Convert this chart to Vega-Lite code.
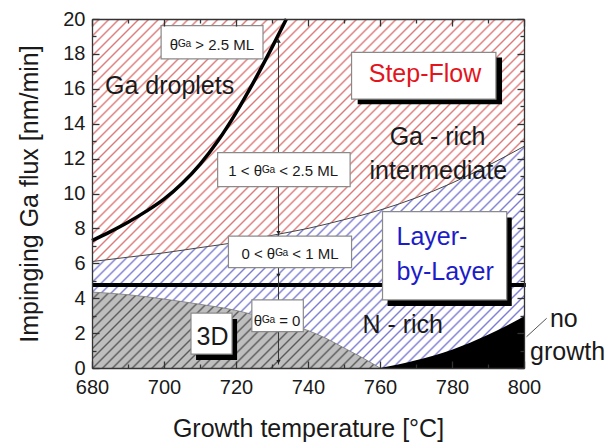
{
"$schema":"https://vega.github.io/schema/vega-lite/v6.json",
"width":432,"height":349,
"autosize":{"type":"none"},
"padding":{"left":92,"top":19,"right":86,"bottom":79},
"background":"white",
"config":{"view":{"stroke":null},"font":"Liberation Sans",
 "axis":{"grid":false,"domainColor":"#333","domainWidth":1.3,"tickColor":"#333","tickWidth":1.3,"labelFont":"Liberation Sans","labelFontSize":20,"labelColor":"#1a1a1a","titleFont":"Liberation Sans","titleFontSize":25,"titleFontWeight":"normal","titleColor":"#1a1a1a","labelFlush":false,"labelOverlap":false}},
"datasets":{
 "bound":[{"T":680,"v":6.1},{"T":690,"v":6.35},{"T":700,"v":6.6},{"T":710,"v":6.9},{"T":720,"v":7.2},{"T":730,"v":7.6},{"T":740,"v":8.0},{"T":750,"v":8.5},{"T":760,"v":9.05},{"T":770,"v":9.75},{"T":780,"v":10.6},{"T":790,"v":11.6},{"T":800,"v":12.7}],
 "threeD":[{"T":680,"v":4.35},{"T":690,"v":4.2},{"T":700,"v":3.95},{"T":710,"v":3.65},{"T":720,"v":3.3},{"T":730,"v":2.75},{"T":740,"v":2.15},{"T":745,"v":1.7},{"T":750,"v":1.15},{"T":755,"v":0.6},{"T":760,"v":0}],
 "nogrowth":[{"T":760,"v":0},{"T":765,"v":0.2},{"T":770,"v":0.45},{"T":775,"v":0.72},{"T":780,"v":1.05},{"T":785,"v":1.45},{"T":790,"v":1.9},{"T":795,"v":2.4},{"T":800,"v":2.95}],
 "drop":[{"T":680,"v":7.3},{"T":685,"v":7.8},{"T":690,"v":8.35},{"T":695,"v":8.975},{"T":700,"v":9.675},{"T":705,"v":10.575},{"T":710,"v":11.675},{"T":715,"v":13.025},{"T":720,"v":14.625},{"T":725,"v":16.425},{"T":730,"v":18.375},{"T":734,"v":20}],
 "hline":[{"T1":680,"T2":800.5,"v":4.75}],
 "vline":[{"T":731.8,"v1":0.2,"v2":18.8}],
 "leader":[{"T1":800.7,"T2":806.3,"v1":1.79,"v2":2.85}],
 "boxes":[{"x1":699.2,"x2":727.5,"y1":17.71,"y2":19.62},{"x1":714.9,"x2":751.7,"y1":10.39,"y2":12.34},{"x1":717.9,"x2":752.1,"y1":5.75,"y2":7.56},{"x1":724.4,"x2":738.7,"y1":2.08,"y2":3.9}],
 "sboxes":[{"x1":707.5,"x2":718.9,"y1":0.8,"y2":3.15},{"x1":752.1,"x2":792.2,"y1":15.41,"y2":18.09},{"x1":760.7,"x2":795.2,"y1":3.9,"y2":8.96}],
 "shadows":[{"x1":708.9,"x2":720.3,"y1":0.46,"y2":2.81},{"x1":753.8,"x2":793.9,"y1":15.12,"y2":17.8},{"x1":762.1,"x2":796.6,"y1":3.56,"y2":8.62}],
 "arrows_up":[{"T":731.8,"v":18.75}],
 "arrows_down":[{"T":731.8,"v":7.75},{"T":731.8,"v":5.3},{"T":731.8,"v":0.35}],
 "boxtext":[{"t":"θᴳᵃ > 2.5 ML","T":713.3,"v":18.53},{"t":"1 < θᴳᵃ < 2.5 ML","T":733.1,"v":11.27},{"t":"0 < θᴳᵃ < 1 ML","T":735,"v":6.55},{"t":"θᴳᵃ = 0","T":731.4,"v":2.71}],
 "labels":[{"t":"Ga - rich","T":776,"v":13.21},{"t":"intermediate","T":776.2,"v":11.3},{"t":"N - rich","T":766.3,"v":2.45},{"t":"3D","T":713.5,"v":1.8}],
 "leftlabels":[{"t":"Ga droplets","T":683.6,"v":16.18}],
 "outlabels":[{"t":"no","T":807.2,"v":2.37},{"t":"growth","T":801.7,"v":0.46}],
 "redlabel":[{"t":"Step-Flow","T":772.5,"v":16.84}],
 "bluelabel":[{"t":"Layer-","T":764.6,"v":7.52},{"t":"by-Layer","T":764.6,"v":5.52}]
},
"layer":[
 {"data":{"name":"bound"},
  "mark":{"type":"area","fill":{"gradient":"linear","x1":0,"y1":0,"x2":1.7421,"y2":0.9783,"stops":[
{"offset":0.0055,"color":"#fff"},{"offset":0.0075,"color":"#dc7878"},{"offset":0.0095,"color":"#fff"},
{"offset":0.0155,"color":"#fff"},{"offset":0.0175,"color":"#dc7878"},{"offset":0.0195,"color":"#fff"},
{"offset":0.0255,"color":"#fff"},{"offset":0.0275,"color":"#dc7878"},{"offset":0.0295,"color":"#fff"},
{"offset":0.0355,"color":"#fff"},{"offset":0.0375,"color":"#dc7878"},{"offset":0.0395,"color":"#fff"},
{"offset":0.0455,"color":"#fff"},{"offset":0.0475,"color":"#dc7878"},{"offset":0.0495,"color":"#fff"},
{"offset":0.0555,"color":"#fff"},{"offset":0.0575,"color":"#dc7878"},{"offset":0.0595,"color":"#fff"},
{"offset":0.0655,"color":"#fff"},{"offset":0.0675,"color":"#dc7878"},{"offset":0.0695,"color":"#fff"},
{"offset":0.0755,"color":"#fff"},{"offset":0.0775,"color":"#dc7878"},{"offset":0.0795,"color":"#fff"},
{"offset":0.0855,"color":"#fff"},{"offset":0.0875,"color":"#dc7878"},{"offset":0.0895,"color":"#fff"},
{"offset":0.0955,"color":"#fff"},{"offset":0.0975,"color":"#dc7878"},{"offset":0.0995,"color":"#fff"},
{"offset":0.1055,"color":"#fff"},{"offset":0.1075,"color":"#dc7878"},{"offset":0.1095,"color":"#fff"},
{"offset":0.1155,"color":"#fff"},{"offset":0.1175,"color":"#dc7878"},{"offset":0.1195,"color":"#fff"},
{"offset":0.1255,"color":"#fff"},{"offset":0.1275,"color":"#dc7878"},{"offset":0.1295,"color":"#fff"},
{"offset":0.1355,"color":"#fff"},{"offset":0.1375,"color":"#dc7878"},{"offset":0.1395,"color":"#fff"},
{"offset":0.1455,"color":"#fff"},{"offset":0.1475,"color":"#dc7878"},{"offset":0.1495,"color":"#fff"},
{"offset":0.1555,"color":"#fff"},{"offset":0.1575,"color":"#dc7878"},{"offset":0.1595,"color":"#fff"},
{"offset":0.1655,"color":"#fff"},{"offset":0.1675,"color":"#dc7878"},{"offset":0.1695,"color":"#fff"},
{"offset":0.1755,"color":"#fff"},{"offset":0.1775,"color":"#dc7878"},{"offset":0.1795,"color":"#fff"},
{"offset":0.1855,"color":"#fff"},{"offset":0.1875,"color":"#dc7878"},{"offset":0.1895,"color":"#fff"},
{"offset":0.1955,"color":"#fff"},{"offset":0.1975,"color":"#dc7878"},{"offset":0.1995,"color":"#fff"},
{"offset":0.2055,"color":"#fff"},{"offset":0.2075,"color":"#dc7878"},{"offset":0.2095,"color":"#fff"},
{"offset":0.2155,"color":"#fff"},{"offset":0.2175,"color":"#dc7878"},{"offset":0.2195,"color":"#fff"},
{"offset":0.2255,"color":"#fff"},{"offset":0.2275,"color":"#dc7878"},{"offset":0.2295,"color":"#fff"},
{"offset":0.2355,"color":"#fff"},{"offset":0.2375,"color":"#dc7878"},{"offset":0.2395,"color":"#fff"},
{"offset":0.2455,"color":"#fff"},{"offset":0.2475,"color":"#dc7878"},{"offset":0.2495,"color":"#fff"},
{"offset":0.2555,"color":"#fff"},{"offset":0.2575,"color":"#dc7878"},{"offset":0.2595,"color":"#fff"},
{"offset":0.2655,"color":"#fff"},{"offset":0.2675,"color":"#dc7878"},{"offset":0.2695,"color":"#fff"},
{"offset":0.2755,"color":"#fff"},{"offset":0.2775,"color":"#dc7878"},{"offset":0.2795,"color":"#fff"},
{"offset":0.2855,"color":"#fff"},{"offset":0.2875,"color":"#dc7878"},{"offset":0.2895,"color":"#fff"},
{"offset":0.2955,"color":"#fff"},{"offset":0.2975,"color":"#dc7878"},{"offset":0.2995,"color":"#fff"},
{"offset":0.3055,"color":"#fff"},{"offset":0.3075,"color":"#dc7878"},{"offset":0.3095,"color":"#fff"},
{"offset":0.3155,"color":"#fff"},{"offset":0.3175,"color":"#dc7878"},{"offset":0.3195,"color":"#fff"},
{"offset":0.3255,"color":"#fff"},{"offset":0.3275,"color":"#dc7878"},{"offset":0.3295,"color":"#fff"},
{"offset":0.3355,"color":"#fff"},{"offset":0.3375,"color":"#dc7878"},{"offset":0.3395,"color":"#fff"},
{"offset":0.3455,"color":"#fff"},{"offset":0.3475,"color":"#dc7878"},{"offset":0.3495,"color":"#fff"},
{"offset":0.3555,"color":"#fff"},{"offset":0.3575,"color":"#dc7878"},{"offset":0.3595,"color":"#fff"},
{"offset":0.3655,"color":"#fff"},{"offset":0.3675,"color":"#dc7878"},{"offset":0.3695,"color":"#fff"},
{"offset":0.3755,"color":"#fff"},{"offset":0.3775,"color":"#dc7878"},{"offset":0.3795,"color":"#fff"},
{"offset":0.3855,"color":"#fff"},{"offset":0.3875,"color":"#dc7878"},{"offset":0.3895,"color":"#fff"},
{"offset":0.3955,"color":"#fff"},{"offset":0.3975,"color":"#dc7878"},{"offset":0.3995,"color":"#fff"},
{"offset":0.4055,"color":"#fff"},{"offset":0.4075,"color":"#dc7878"},{"offset":0.4095,"color":"#fff"},
{"offset":0.4155,"color":"#fff"},{"offset":0.4175,"color":"#dc7878"},{"offset":0.4195,"color":"#fff"},
{"offset":0.4255,"color":"#fff"},{"offset":0.4275,"color":"#dc7878"},{"offset":0.4295,"color":"#fff"},
{"offset":0.4355,"color":"#fff"},{"offset":0.4375,"color":"#dc7878"},{"offset":0.4395,"color":"#fff"},
{"offset":0.4455,"color":"#fff"},{"offset":0.4475,"color":"#dc7878"},{"offset":0.4495,"color":"#fff"},
{"offset":0.4555,"color":"#fff"},{"offset":0.4575,"color":"#dc7878"},{"offset":0.4595,"color":"#fff"},
{"offset":0.4655,"color":"#fff"},{"offset":0.4675,"color":"#dc7878"},{"offset":0.4695,"color":"#fff"},
{"offset":0.4755,"color":"#fff"},{"offset":0.4775,"color":"#dc7878"},{"offset":0.4795,"color":"#fff"},
{"offset":0.4855,"color":"#fff"},{"offset":0.4875,"color":"#dc7878"},{"offset":0.4895,"color":"#fff"},
{"offset":0.4955,"color":"#fff"},{"offset":0.4975,"color":"#dc7878"},{"offset":0.4995,"color":"#fff"},
{"offset":0.5055,"color":"#fff"},{"offset":0.5075,"color":"#dc7878"},{"offset":0.5095,"color":"#fff"},
{"offset":0.5155,"color":"#fff"},{"offset":0.5175,"color":"#dc7878"},{"offset":0.5195,"color":"#fff"},
{"offset":0.5255,"color":"#fff"},{"offset":0.5275,"color":"#dc7878"},{"offset":0.5295,"color":"#fff"},
{"offset":0.5355,"color":"#fff"},{"offset":0.5375,"color":"#dc7878"},{"offset":0.5395,"color":"#fff"},
{"offset":0.5455,"color":"#fff"},{"offset":0.5475,"color":"#dc7878"},{"offset":0.5495,"color":"#fff"},
{"offset":0.5555,"color":"#fff"},{"offset":0.5575,"color":"#dc7878"},{"offset":0.5595,"color":"#fff"},
{"offset":0.5655,"color":"#fff"},{"offset":0.5675,"color":"#dc7878"},{"offset":0.5695,"color":"#fff"},
{"offset":0.5755,"color":"#fff"},{"offset":0.5775,"color":"#dc7878"},{"offset":0.5795,"color":"#fff"},
{"offset":0.5855,"color":"#fff"},{"offset":0.5875,"color":"#dc7878"},{"offset":0.5895,"color":"#fff"},
{"offset":0.5955,"color":"#fff"},{"offset":0.5975,"color":"#dc7878"},{"offset":0.5995,"color":"#fff"},
{"offset":0.6055,"color":"#fff"},{"offset":0.6075,"color":"#dc7878"},{"offset":0.6095,"color":"#fff"},
{"offset":0.6155,"color":"#fff"},{"offset":0.6175,"color":"#dc7878"},{"offset":0.6195,"color":"#fff"},
{"offset":0.6255,"color":"#fff"},{"offset":0.6275,"color":"#dc7878"},{"offset":0.6295,"color":"#fff"},
{"offset":0.6355,"color":"#fff"},{"offset":0.6375,"color":"#dc7878"},{"offset":0.6395,"color":"#fff"},
{"offset":0.6455,"color":"#fff"},{"offset":0.6475,"color":"#dc7878"},{"offset":0.6495,"color":"#fff"},
{"offset":0.6555,"color":"#fff"},{"offset":0.6575,"color":"#dc7878"},{"offset":0.6595,"color":"#fff"},
{"offset":0.6655,"color":"#fff"},{"offset":0.6675,"color":"#dc7878"},{"offset":0.6695,"color":"#fff"},
{"offset":0.6755,"color":"#fff"},{"offset":0.6775,"color":"#dc7878"},{"offset":0.6795,"color":"#fff"},
{"offset":0.6855,"color":"#fff"},{"offset":0.6875,"color":"#dc7878"},{"offset":0.6895,"color":"#fff"}]}},
  "encoding":{
   "x":{"field":"T","type":"quantitative","scale":{"domain":[680,800],"nice":false,"zero":false},
    "axis":{"orient":"bottom","zindex":3,"values":[680,690,700,710,720,730,740,750,760,770,780,790,800],"labelExpr":"datum.value % 20 === 0 ? datum.label : ''","tickSize":{"condition":{"test":"datum.value % 20 === 0","value":-7},"value":-4},"labelPadding":16,"title":"Growth temperature [°C]","titlePadding":16}},
   "y":{"field":"v","type":"quantitative","scale":{"domain":[0,20],"nice":false,"zero":false},
    "axis":{"orient":"left","zindex":3,"values":[0,1,2,3,4,5,6,7,8,9,10,11,12,13,14,15,16,17,18,19,20],"labelExpr":"datum.value % 2 === 0 ? datum.label : ''","tickSize":{"condition":{"test":"datum.value % 2 === 0","value":-7},"value":-4},"labelPadding":14,"title":"Impinging  Ga flux [nm/min]","titlePadding":20}},
   "y2":{"datum":20}}},
 {"data":{"name":"bound"},
  "mark":{"type":"area","fill":{"gradient":"linear","x1":0,"y1":0,"x2":1.8142,"y2":0.9306,"stops":[
{"offset":0.0055,"color":"#fff"},{"offset":0.0075,"color":"#7c7cd0"},{"offset":0.0095,"color":"#fff"},
{"offset":0.0155,"color":"#fff"},{"offset":0.0175,"color":"#7c7cd0"},{"offset":0.0195,"color":"#fff"},
{"offset":0.0255,"color":"#fff"},{"offset":0.0275,"color":"#7c7cd0"},{"offset":0.0295,"color":"#fff"},
{"offset":0.0355,"color":"#fff"},{"offset":0.0375,"color":"#7c7cd0"},{"offset":0.0395,"color":"#fff"},
{"offset":0.0455,"color":"#fff"},{"offset":0.0475,"color":"#7c7cd0"},{"offset":0.0495,"color":"#fff"},
{"offset":0.0555,"color":"#fff"},{"offset":0.0575,"color":"#7c7cd0"},{"offset":0.0595,"color":"#fff"},
{"offset":0.0655,"color":"#fff"},{"offset":0.0675,"color":"#7c7cd0"},{"offset":0.0695,"color":"#fff"},
{"offset":0.0755,"color":"#fff"},{"offset":0.0775,"color":"#7c7cd0"},{"offset":0.0795,"color":"#fff"},
{"offset":0.0855,"color":"#fff"},{"offset":0.0875,"color":"#7c7cd0"},{"offset":0.0895,"color":"#fff"},
{"offset":0.0955,"color":"#fff"},{"offset":0.0975,"color":"#7c7cd0"},{"offset":0.0995,"color":"#fff"},
{"offset":0.1055,"color":"#fff"},{"offset":0.1075,"color":"#7c7cd0"},{"offset":0.1095,"color":"#fff"},
{"offset":0.1155,"color":"#fff"},{"offset":0.1175,"color":"#7c7cd0"},{"offset":0.1195,"color":"#fff"},
{"offset":0.1255,"color":"#fff"},{"offset":0.1275,"color":"#7c7cd0"},{"offset":0.1295,"color":"#fff"},
{"offset":0.1355,"color":"#fff"},{"offset":0.1375,"color":"#7c7cd0"},{"offset":0.1395,"color":"#fff"},
{"offset":0.1455,"color":"#fff"},{"offset":0.1475,"color":"#7c7cd0"},{"offset":0.1495,"color":"#fff"},
{"offset":0.1555,"color":"#fff"},{"offset":0.1575,"color":"#7c7cd0"},{"offset":0.1595,"color":"#fff"},
{"offset":0.1655,"color":"#fff"},{"offset":0.1675,"color":"#7c7cd0"},{"offset":0.1695,"color":"#fff"},
{"offset":0.1755,"color":"#fff"},{"offset":0.1775,"color":"#7c7cd0"},{"offset":0.1795,"color":"#fff"},
{"offset":0.1855,"color":"#fff"},{"offset":0.1875,"color":"#7c7cd0"},{"offset":0.1895,"color":"#fff"},
{"offset":0.1955,"color":"#fff"},{"offset":0.1975,"color":"#7c7cd0"},{"offset":0.1995,"color":"#fff"},
{"offset":0.2055,"color":"#fff"},{"offset":0.2075,"color":"#7c7cd0"},{"offset":0.2095,"color":"#fff"},
{"offset":0.2155,"color":"#fff"},{"offset":0.2175,"color":"#7c7cd0"},{"offset":0.2195,"color":"#fff"},
{"offset":0.2255,"color":"#fff"},{"offset":0.2275,"color":"#7c7cd0"},{"offset":0.2295,"color":"#fff"},
{"offset":0.2355,"color":"#fff"},{"offset":0.2375,"color":"#7c7cd0"},{"offset":0.2395,"color":"#fff"},
{"offset":0.2455,"color":"#fff"},{"offset":0.2475,"color":"#7c7cd0"},{"offset":0.2495,"color":"#fff"},
{"offset":0.2555,"color":"#fff"},{"offset":0.2575,"color":"#7c7cd0"},{"offset":0.2595,"color":"#fff"},
{"offset":0.2655,"color":"#fff"},{"offset":0.2675,"color":"#7c7cd0"},{"offset":0.2695,"color":"#fff"},
{"offset":0.2755,"color":"#fff"},{"offset":0.2775,"color":"#7c7cd0"},{"offset":0.2795,"color":"#fff"},
{"offset":0.2855,"color":"#fff"},{"offset":0.2875,"color":"#7c7cd0"},{"offset":0.2895,"color":"#fff"},
{"offset":0.2955,"color":"#fff"},{"offset":0.2975,"color":"#7c7cd0"},{"offset":0.2995,"color":"#fff"},
{"offset":0.3055,"color":"#fff"},{"offset":0.3075,"color":"#7c7cd0"},{"offset":0.3095,"color":"#fff"},
{"offset":0.3155,"color":"#fff"},{"offset":0.3175,"color":"#7c7cd0"},{"offset":0.3195,"color":"#fff"},
{"offset":0.3255,"color":"#fff"},{"offset":0.3275,"color":"#7c7cd0"},{"offset":0.3295,"color":"#fff"},
{"offset":0.3355,"color":"#fff"},{"offset":0.3375,"color":"#7c7cd0"},{"offset":0.3395,"color":"#fff"},
{"offset":0.3455,"color":"#fff"},{"offset":0.3475,"color":"#7c7cd0"},{"offset":0.3495,"color":"#fff"},
{"offset":0.3555,"color":"#fff"},{"offset":0.3575,"color":"#7c7cd0"},{"offset":0.3595,"color":"#fff"},
{"offset":0.3655,"color":"#fff"},{"offset":0.3675,"color":"#7c7cd0"},{"offset":0.3695,"color":"#fff"},
{"offset":0.3755,"color":"#fff"},{"offset":0.3775,"color":"#7c7cd0"},{"offset":0.3795,"color":"#fff"},
{"offset":0.3855,"color":"#fff"},{"offset":0.3875,"color":"#7c7cd0"},{"offset":0.3895,"color":"#fff"},
{"offset":0.3955,"color":"#fff"},{"offset":0.3975,"color":"#7c7cd0"},{"offset":0.3995,"color":"#fff"},
{"offset":0.4055,"color":"#fff"},{"offset":0.4075,"color":"#7c7cd0"},{"offset":0.4095,"color":"#fff"},
{"offset":0.4155,"color":"#fff"},{"offset":0.4175,"color":"#7c7cd0"},{"offset":0.4195,"color":"#fff"},
{"offset":0.4255,"color":"#fff"},{"offset":0.4275,"color":"#7c7cd0"},{"offset":0.4295,"color":"#fff"},
{"offset":0.4355,"color":"#fff"},{"offset":0.4375,"color":"#7c7cd0"},{"offset":0.4395,"color":"#fff"},
{"offset":0.4455,"color":"#fff"},{"offset":0.4475,"color":"#7c7cd0"},{"offset":0.4495,"color":"#fff"},
{"offset":0.4555,"color":"#fff"},{"offset":0.4575,"color":"#7c7cd0"},{"offset":0.4595,"color":"#fff"},
{"offset":0.4655,"color":"#fff"},{"offset":0.4675,"color":"#7c7cd0"},{"offset":0.4695,"color":"#fff"},
{"offset":0.4755,"color":"#fff"},{"offset":0.4775,"color":"#7c7cd0"},{"offset":0.4795,"color":"#fff"},
{"offset":0.4855,"color":"#fff"},{"offset":0.4875,"color":"#7c7cd0"},{"offset":0.4895,"color":"#fff"},
{"offset":0.4955,"color":"#fff"},{"offset":0.4975,"color":"#7c7cd0"},{"offset":0.4995,"color":"#fff"},
{"offset":0.5055,"color":"#fff"},{"offset":0.5075,"color":"#7c7cd0"},{"offset":0.5095,"color":"#fff"},
{"offset":0.5155,"color":"#fff"},{"offset":0.5175,"color":"#7c7cd0"},{"offset":0.5195,"color":"#fff"},
{"offset":0.5255,"color":"#fff"},{"offset":0.5275,"color":"#7c7cd0"},{"offset":0.5295,"color":"#fff"},
{"offset":0.5355,"color":"#fff"},{"offset":0.5375,"color":"#7c7cd0"},{"offset":0.5395,"color":"#fff"},
{"offset":0.5455,"color":"#fff"},{"offset":0.5475,"color":"#7c7cd0"},{"offset":0.5495,"color":"#fff"},
{"offset":0.5555,"color":"#fff"},{"offset":0.5575,"color":"#7c7cd0"},{"offset":0.5595,"color":"#fff"},
{"offset":0.5655,"color":"#fff"},{"offset":0.5675,"color":"#7c7cd0"},{"offset":0.5695,"color":"#fff"},
{"offset":0.5755,"color":"#fff"},{"offset":0.5775,"color":"#7c7cd0"},{"offset":0.5795,"color":"#fff"},
{"offset":0.5855,"color":"#fff"},{"offset":0.5875,"color":"#7c7cd0"},{"offset":0.5895,"color":"#fff"},
{"offset":0.5955,"color":"#fff"},{"offset":0.5975,"color":"#7c7cd0"},{"offset":0.5995,"color":"#fff"},
{"offset":0.6055,"color":"#fff"},{"offset":0.6075,"color":"#7c7cd0"},{"offset":0.6095,"color":"#fff"},
{"offset":0.6155,"color":"#fff"},{"offset":0.6175,"color":"#7c7cd0"},{"offset":0.6195,"color":"#fff"},
{"offset":0.6255,"color":"#fff"},{"offset":0.6275,"color":"#7c7cd0"},{"offset":0.6295,"color":"#fff"},
{"offset":0.6355,"color":"#fff"},{"offset":0.6375,"color":"#7c7cd0"},{"offset":0.6395,"color":"#fff"},
{"offset":0.6455,"color":"#fff"},{"offset":0.6475,"color":"#7c7cd0"},{"offset":0.6495,"color":"#fff"},
{"offset":0.6555,"color":"#fff"},{"offset":0.6575,"color":"#7c7cd0"},{"offset":0.6595,"color":"#fff"},
{"offset":0.6655,"color":"#fff"},{"offset":0.6675,"color":"#7c7cd0"},{"offset":0.6695,"color":"#fff"}]}},
  "encoding":{
   "x":{"field":"T","type":"quantitative","axis":{"orient":"top","zindex":3,"values":[680,690,700,710,720,730,740,750,760,770,780,790,800],"labels":false,"title":null,"tickSize":{"condition":{"test":"datum.value % 20 === 0","value":-7},"value":-4}}},
   "y":{"field":"v","type":"quantitative","axis":{"orient":"right","zindex":3,"values":[0,1,2,3,4,5,6,7,8,9,10,11,12,13,14,15,16,17,18,19,20],"labels":false,"title":null,"tickSize":{"condition":{"test":"datum.value % 2 === 0","value":-7},"value":-4}}},
   "y2":{"datum":0}}},
 {"data":{"name":"threeD"},
  "mark":{"type":"area","interpolate":"monotone","fill":{"gradient":"linear","x1":0,"y1":0,"x2":3.2141,"y2":0.8471,"stops":[
{"offset":0.0055,"color":"#bebebe"},{"offset":0.0075,"color":"#5a5a5a"},{"offset":0.0095,"color":"#bebebe"},
{"offset":0.0155,"color":"#bebebe"},{"offset":0.0175,"color":"#5a5a5a"},{"offset":0.0195,"color":"#bebebe"},
{"offset":0.0255,"color":"#bebebe"},{"offset":0.0275,"color":"#5a5a5a"},{"offset":0.0295,"color":"#bebebe"},
{"offset":0.0355,"color":"#bebebe"},{"offset":0.0375,"color":"#5a5a5a"},{"offset":0.0395,"color":"#bebebe"},
{"offset":0.0455,"color":"#bebebe"},{"offset":0.0475,"color":"#5a5a5a"},{"offset":0.0495,"color":"#bebebe"},
{"offset":0.0555,"color":"#bebebe"},{"offset":0.0575,"color":"#5a5a5a"},{"offset":0.0595,"color":"#bebebe"},
{"offset":0.0655,"color":"#bebebe"},{"offset":0.0675,"color":"#5a5a5a"},{"offset":0.0695,"color":"#bebebe"},
{"offset":0.0755,"color":"#bebebe"},{"offset":0.0775,"color":"#5a5a5a"},{"offset":0.0795,"color":"#bebebe"},
{"offset":0.0855,"color":"#bebebe"},{"offset":0.0875,"color":"#5a5a5a"},{"offset":0.0895,"color":"#bebebe"},
{"offset":0.0955,"color":"#bebebe"},{"offset":0.0975,"color":"#5a5a5a"},{"offset":0.0995,"color":"#bebebe"},
{"offset":0.1055,"color":"#bebebe"},{"offset":0.1075,"color":"#5a5a5a"},{"offset":0.1095,"color":"#bebebe"},
{"offset":0.1155,"color":"#bebebe"},{"offset":0.1175,"color":"#5a5a5a"},{"offset":0.1195,"color":"#bebebe"},
{"offset":0.1255,"color":"#bebebe"},{"offset":0.1275,"color":"#5a5a5a"},{"offset":0.1295,"color":"#bebebe"},
{"offset":0.1355,"color":"#bebebe"},{"offset":0.1375,"color":"#5a5a5a"},{"offset":0.1395,"color":"#bebebe"},
{"offset":0.1455,"color":"#bebebe"},{"offset":0.1475,"color":"#5a5a5a"},{"offset":0.1495,"color":"#bebebe"},
{"offset":0.1555,"color":"#bebebe"},{"offset":0.1575,"color":"#5a5a5a"},{"offset":0.1595,"color":"#bebebe"},
{"offset":0.1655,"color":"#bebebe"},{"offset":0.1675,"color":"#5a5a5a"},{"offset":0.1695,"color":"#bebebe"},
{"offset":0.1755,"color":"#bebebe"},{"offset":0.1775,"color":"#5a5a5a"},{"offset":0.1795,"color":"#bebebe"},
{"offset":0.1855,"color":"#bebebe"},{"offset":0.1875,"color":"#5a5a5a"},{"offset":0.1895,"color":"#bebebe"},
{"offset":0.1955,"color":"#bebebe"},{"offset":0.1975,"color":"#5a5a5a"},{"offset":0.1995,"color":"#bebebe"},
{"offset":0.2055,"color":"#bebebe"},{"offset":0.2075,"color":"#5a5a5a"},{"offset":0.2095,"color":"#bebebe"},
{"offset":0.2155,"color":"#bebebe"},{"offset":0.2175,"color":"#5a5a5a"},{"offset":0.2195,"color":"#bebebe"},
{"offset":0.2255,"color":"#bebebe"},{"offset":0.2275,"color":"#5a5a5a"},{"offset":0.2295,"color":"#bebebe"},
{"offset":0.2355,"color":"#bebebe"},{"offset":0.2375,"color":"#5a5a5a"},{"offset":0.2395,"color":"#bebebe"},
{"offset":0.2455,"color":"#bebebe"},{"offset":0.2475,"color":"#5a5a5a"},{"offset":0.2495,"color":"#bebebe"},
{"offset":0.2555,"color":"#bebebe"},{"offset":0.2575,"color":"#5a5a5a"},{"offset":0.2595,"color":"#bebebe"},
{"offset":0.2655,"color":"#bebebe"},{"offset":0.2675,"color":"#5a5a5a"},{"offset":0.2695,"color":"#bebebe"},
{"offset":0.2755,"color":"#bebebe"},{"offset":0.2775,"color":"#5a5a5a"},{"offset":0.2795,"color":"#bebebe"},
{"offset":0.2855,"color":"#bebebe"},{"offset":0.2875,"color":"#5a5a5a"},{"offset":0.2895,"color":"#bebebe"},
{"offset":0.2955,"color":"#bebebe"},{"offset":0.2975,"color":"#5a5a5a"},{"offset":0.2995,"color":"#bebebe"},
{"offset":0.3055,"color":"#bebebe"},{"offset":0.3075,"color":"#5a5a5a"},{"offset":0.3095,"color":"#bebebe"},
{"offset":0.3155,"color":"#bebebe"},{"offset":0.3175,"color":"#5a5a5a"},{"offset":0.3195,"color":"#bebebe"},
{"offset":0.3255,"color":"#bebebe"},{"offset":0.3275,"color":"#5a5a5a"},{"offset":0.3295,"color":"#bebebe"},
{"offset":0.3355,"color":"#bebebe"},{"offset":0.3375,"color":"#5a5a5a"},{"offset":0.3395,"color":"#bebebe"},
{"offset":0.3455,"color":"#bebebe"},{"offset":0.3475,"color":"#5a5a5a"},{"offset":0.3495,"color":"#bebebe"},
{"offset":0.3555,"color":"#bebebe"},{"offset":0.3575,"color":"#5a5a5a"},{"offset":0.3595,"color":"#bebebe"},
{"offset":0.3655,"color":"#bebebe"},{"offset":0.3675,"color":"#5a5a5a"},{"offset":0.3695,"color":"#bebebe"}]}},
  "encoding":{"x":{"field":"T","type":"quantitative","axis":null},"y":{"field":"v","type":"quantitative","axis":null},"y2":{"datum":0}}},
 {"data":{"name":"nogrowth"},"mark":{"type":"area","interpolate":"monotone","fill":"#000"},
  "encoding":{"x":{"field":"T","type":"quantitative","axis":null},"y":{"field":"v","type":"quantitative","axis":null},"y2":{"datum":0}}},
 {"data":{"name":"bound"},"mark":{"type":"line","interpolate":"monotone","stroke":"#444","strokeWidth":1},
  "encoding":{"x":{"field":"T","type":"quantitative","axis":null},"y":{"field":"v","type":"quantitative","axis":null}}},
 {"data":{"name":"threeD"},"mark":{"type":"line","interpolate":"monotone","stroke":"#777","strokeWidth":0.8},
  "encoding":{"x":{"field":"T","type":"quantitative","axis":null},"y":{"field":"v","type":"quantitative","axis":null}}},
 {"data":{"name":"drop"},"mark":{"type":"line","interpolate":"monotone","stroke":"#000","strokeWidth":3.5},
  "encoding":{"x":{"field":"T","type":"quantitative","axis":null},"y":{"field":"v","type":"quantitative","axis":null}}},
 {"data":{"name":"hline"},"mark":{"type":"rule","stroke":"#000","strokeWidth":4},
  "encoding":{"x":{"field":"T1","type":"quantitative","axis":null},"x2":{"field":"T2"},"y":{"field":"v","type":"quantitative","axis":null}}},
 {"data":{"name":"vline"},"mark":{"type":"rule","stroke":"#333","strokeWidth":1},
  "encoding":{"x":{"field":"T","type":"quantitative","axis":null},"y":{"field":"v1","type":"quantitative","axis":null},"y2":{"field":"v2"}}},
 {"data":{"name":"arrows_up"},"mark":{"type":"point","shape":"triangle-up","filled":true,"color":"#222","size":22,"opacity":1},
  "encoding":{"x":{"field":"T","type":"quantitative","axis":null},"y":{"field":"v","type":"quantitative","axis":null}}},
 {"data":{"name":"arrows_down"},"mark":{"type":"point","shape":"triangle-down","filled":true,"color":"#222","size":18,"opacity":1},
  "encoding":{"x":{"field":"T","type":"quantitative","axis":null},"y":{"field":"v","type":"quantitative","axis":null}}},
 {"data":{"name":"boxes"},"mark":{"type":"rect","fill":"#fff","stroke":"#8a8a8a","strokeWidth":1.2},
  "encoding":{"x":{"field":"x1","type":"quantitative","axis":null},"x2":{"field":"x2"},"y":{"field":"y1","type":"quantitative","axis":null},"y2":{"field":"y2"}}},
 {"data":{"name":"shadows"},"mark":{"type":"rect","fill":"#000"},
  "encoding":{"x":{"field":"x1","type":"quantitative","axis":null},"x2":{"field":"x2"},"y":{"field":"y1","type":"quantitative","axis":null},"y2":{"field":"y2"}}},
 {"data":{"name":"sboxes"},"mark":{"type":"rect","fill":"#fff","stroke":"#8a8a8a","strokeWidth":1.2},
  "encoding":{"x":{"field":"x1","type":"quantitative","axis":null},"x2":{"field":"x2"},"y":{"field":"y1","type":"quantitative","axis":null},"y2":{"field":"y2"}}},
 {"data":{"name":"boxtext"},"mark":{"type":"text","font":"Liberation Sans","fontSize":15,"color":"#1a1a1a","align":"center","baseline":"middle"},
  "encoding":{"x":{"field":"T","type":"quantitative","axis":null},"y":{"field":"v","type":"quantitative","axis":null},"text":{"field":"t"}}},
 {"data":{"name":"labels"},"mark":{"type":"text","font":"Liberation Sans","fontSize":25,"color":"#1a1a1a","align":"center","baseline":"middle"},
  "encoding":{"x":{"field":"T","type":"quantitative","axis":null},"y":{"field":"v","type":"quantitative","axis":null},"text":{"field":"t"}}},
 {"data":{"name":"leftlabels"},"mark":{"type":"text","font":"Liberation Sans","fontSize":25,"color":"#1a1a1a","align":"left","baseline":"middle"},
  "encoding":{"x":{"field":"T","type":"quantitative","axis":null},"y":{"field":"v","type":"quantitative","axis":null},"text":{"field":"t"}}},
 {"data":{"name":"outlabels"},"mark":{"type":"text","font":"Liberation Sans","fontSize":25,"color":"#1a1a1a","align":"left","baseline":"alphabetic"},
  "encoding":{"x":{"field":"T","type":"quantitative","axis":null},"y":{"field":"v","type":"quantitative","axis":null},"text":{"field":"t"}}},
 {"data":{"name":"leader"},"mark":{"type":"rule","stroke":"#555","strokeWidth":1},
  "encoding":{"x":{"field":"T1","type":"quantitative","axis":null},"y":{"field":"v1","type":"quantitative","axis":null},"x2":{"field":"T2"},"y2":{"field":"v2"}}},
 {"data":{"name":"redlabel"},"mark":{"type":"text","font":"Liberation Sans","fontSize":25,"color":"#e3141b","align":"center","baseline":"middle"},
  "encoding":{"x":{"field":"T","type":"quantitative","axis":null},"y":{"field":"v","type":"quantitative","axis":null},"text":{"field":"t"}}},
 {"data":{"name":"bluelabel"},"mark":{"type":"text","font":"Liberation Sans","fontSize":25,"color":"#1c1cc8","align":"left","baseline":"middle"},
  "encoding":{"x":{"field":"T","type":"quantitative","axis":null},"y":{"field":"v","type":"quantitative","axis":null},"text":{"field":"t"}}}
],
"resolve":{"axis":{"x":"independent","y":"independent"}}
}
